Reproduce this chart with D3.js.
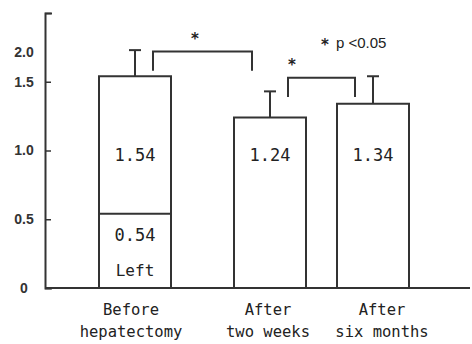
<!DOCTYPE html>
<html>
<head>
<meta charset="utf-8">
<script src="https://cdn.jsdelivr.net/npm/d3@7"></script>
<style>
  body { margin: 0; background: #fff; }
  svg { display: block; }
</style>
</head>
<body>
<svg id="chart" width="472" height="344"></svg>
<script>
var width = 472, height = 344

// data
var categories = ["Before hepatectomy", "After two weeks", "After six months"]
var catLines = [["Before", "hepatectomy"], ["After", "two weeks"], ["After", "six months"]]
var means = [1.54, 1.24, 1.34]
var sds = [0.19, 0.19, 0.20]
var leftValue = 0.54 // left lobe part of the first bar
var yTicks = [0, 0.5, 1.0, 1.5, 2.0]
var yTickLabels = ["0", "0.5", "1.0", "1.5", "2.0"]
// significance brackets: from bar, to bar, top level, leg bottom level
var brackets = [[0, 1, 1.72, 1.58], [1, 2, 1.53, 1.39]]
var noteText = "p <0.05"

var ink = "#333"
var font = "'DejaVu Sans Mono', monospace"

var svg = d3.select("#chart")

var y = d3.scaleLinear().domain([0, 2]).range([288, 13])
var x = d3.scaleOrdinal().domain(categories).range([135, 270, 373])
var barW = 72
var axisX = 45
var labelDx = [-4, -2, 9]

// bars
svg.selectAll(".bar")
  .data(categories)
  .join("rect")
  .attr("class", "bar")
  .attr("x", function(d) { return x(d) - barW / 2 })
  .attr("y", function(d, i) { return y(means[i]) })
  .attr("width", barW)
  .attr("height", function(d, i) { return y(0) - y(means[i]) })
  .attr("fill", "#fff")
  .attr("stroke", ink)
  .attr("stroke-width", 2)

// left lobe divider
svg.append("line")
  .attr("x1", x(categories[0]) - barW / 2)
  .attr("x2", x(categories[0]) + barW / 2)
  .attr("y1", y(leftValue))
  .attr("y2", y(leftValue))
  .attr("stroke", ink)
  .attr("stroke-width", 2)

// error bars
var err = svg.selectAll(".err")
  .data(categories)
  .join("g")
  .attr("class", "err")
err.append("line")
  .attr("x1", function(d) { return x(d) })
  .attr("x2", function(d) { return x(d) })
  .attr("y1", function(d, i) { return y(means[i]) })
  .attr("y2", function(d, i) { return y(means[i] + sds[i]) })
  .attr("stroke", ink).attr("stroke-width", 2)
err.append("line")
  .attr("x1", function(d) { return x(d) - 6 })
  .attr("x2", function(d) { return x(d) + 6 })
  .attr("y1", function(d, i) { return y(means[i] + sds[i]) })
  .attr("y2", function(d, i) { return y(means[i] + sds[i]) })
  .attr("stroke", ink).attr("stroke-width", 2)

// value labels inside bars
svg.selectAll(".val")
  .data(categories)
  .join("text")
  .attr("class", "val")
  .attr("x", function(d) { return x(d) })
  .attr("y", 155)
  .attr("dy", "0.35em")
  .attr("text-anchor", "middle")
  .attr("font-family", font)
  .attr("font-size", 17)
  .attr("fill", "#222")
  .text(function(d, i) { return d3.format(".2f")(means[i]) })

svg.append("text")
  .attr("x", x(categories[0]))
  .attr("y", 235)
  .attr("dy", "0.35em")
  .attr("text-anchor", "middle")
  .attr("font-family", font)
  .attr("font-size", 17)
  .attr("fill", "#222")
  .text(d3.format(".2f")(leftValue))
svg.append("text")
  .attr("x", x(categories[0]))
  .attr("y", 270)
  .attr("dy", "0.35em")
  .attr("text-anchor", "middle")
  .attr("font-family", font)
  .attr("font-size", 16)
  .attr("fill", "#222")
  .text("Left")

// y axis
var yAxis = svg.append("g")
  .attr("transform", "translate(" + axisX + ",0)")
  .call(d3.axisLeft(y).tickValues(yTicks).tickSize(-6).tickSizeOuter(-7)
    .tickFormat(function(d, i) { return yTickLabels[i] }))
yAxis.select(".domain").attr("stroke", ink).attr("stroke-width", 2)
yAxis.selectAll(".tick line").attr("stroke", ink).attr("stroke-width", 1.5)
yAxis.selectAll(".tick text")
  .attr("x", -21)
  .attr("text-anchor", "middle")
  .attr("font-family", "'Liberation Sans', Arial, sans-serif")
  .attr("font-weight", "bold")
  .attr("font-size", 14)
  .attr("fill", "#333")
// the 2.0 label sits lower than its tick in the original
yAxis.selectAll(".tick text").filter(function(d) { return d === 2 }).attr("y", 39)

// x axis baseline
svg.append("line")
  .attr("x1", axisX).attr("x2", width - 2)
  .attr("y1", y(0)).attr("y2", y(0))
  .attr("stroke", ink).attr("stroke-width", 2)

// category labels
var cat = svg.selectAll(".cat")
  .data(categories)
  .join("text")
  .attr("class", "cat")
  .attr("text-anchor", "middle")
  .attr("font-family", font)
  .attr("font-size", 15.5)
  .attr("fill", "#222")
cat.selectAll("tspan")
  .data(function(d, i) { return catLines[i].map(function(t) { return { t: t, c: d, k: i } }) })
  .join("tspan")
  .attr("x", function(d) { return x(d.c) + labelDx[d.k] })
  .attr("y", function(d, j) { return 315 + j * 22 })
  .text(function(d) { return d.t })

// significance brackets
var legDx = 18
var starDx = [42, 4]
brackets.forEach(function(b, k) {
  var x1 = x(categories[b[0]]) + legDx
  var x2 = x(categories[b[1]]) - legDx
  svg.append("path")
    .attr("d", "M" + x1 + "," + y(b[3]) + "V" + y(b[2]) + "H" + x2 + "V" + y(b[3]))
    .attr("fill", "none")
    .attr("stroke", ink)
    .attr("stroke-width", 2)
  svg.append("text")
    .attr("x", x1 + starDx[k])
    .attr("y", y(b[2]) - 8)
    .attr("text-anchor", "middle")
    .attr("font-family", "'DejaVu Sans', sans-serif")
    .attr("font-weight", "bold")
    .attr("font-size", 15)
    .attr("fill", "#222")
    .text("*")
})

// note
svg.append("text")
  .attr("x", 325)
  .attr("y", 50)
  .attr("text-anchor", "middle")
  .attr("font-family", "'DejaVu Sans', sans-serif")
  .attr("font-weight", "bold")
  .attr("font-size", 15)
  .attr("fill", "#222")
  .text("*")
svg.append("text")
  .attr("x", 336)
  .attr("y", 48)
  .attr("font-family", "'Liberation Sans', Arial, sans-serif")
  .attr("font-size", 15)
  .attr("fill", "#222")
  .text(noteText)
</script>
</body>
</html>
